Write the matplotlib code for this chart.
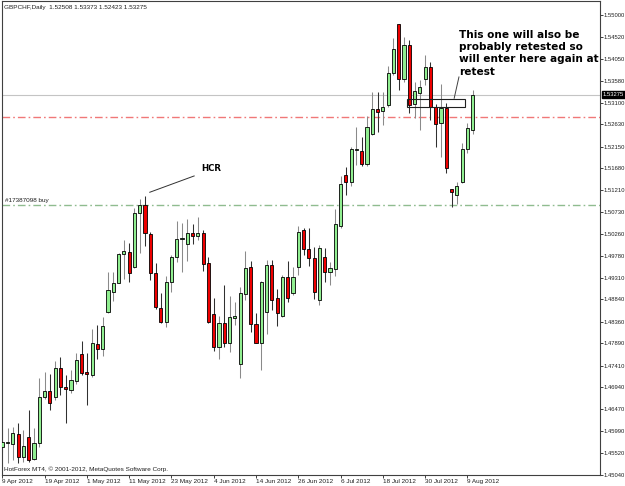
import numpy as np
import matplotlib.pyplot as plt
from matplotlib.patches import Rectangle
import matplotlib.transforms as mtransforms

W, H = 625, 486

title = "GBPCHF,Daily  1.52508 1.53373 1.52423 1.53275"
footer = "HotForex MT4, \u00a9 2001-2012, MetaQuotes Software Corp."

# daily bars, 9 Apr 2012 .. 10 Aug 2012
opens = [1.45654, 1.45738, 1.45712, 1.45922, 1.45424, 1.45870, 1.45381, 1.45728, 1.46723, 1.46860,
         1.46736, 1.47351, 1.46940, 1.46881, 1.47076, 1.47654, 1.47265, 1.47206, 1.47877, 1.47763,
         1.48564, 1.49010, 1.49205, 1.49826, 1.49863, 1.49538, 1.50707, 1.50887, 1.50252, 1.49408,
         1.48650, 1.48360, 1.49213, 1.49767, 1.50157, 1.50036, 1.50274, 1.50216, 1.50287, 1.49625,
         1.48527, 1.47806, 1.48339, 1.47893, 1.48447, 1.47444, 1.48960, 1.49538, 1.48310, 1.47893,
         1.48577, 1.49581, 1.48867, 1.48484, 1.49321, 1.48975, 1.49538, 1.50345, 1.49928, 1.49733,
         1.48830, 1.49767, 1.49430, 1.49495, 1.50439, 1.51536, 1.51391, 1.52077, 1.52062, 1.51774,
         1.52424, 1.52959, 1.52915, 1.53052, 1.53738, 1.54799, 1.53615, 1.54351, 1.53067, 1.53305,
         1.53615, 1.53881, 1.53015, 1.52656, 1.52980, 1.51233, 1.51103, 1.51391, 1.52093, 1.52508]
highs = [1.46016, 1.46059, 1.46087, 1.46161, 1.46016, 1.46448, 1.46052, 1.47148, 1.47265, 1.47221,
         1.47509, 1.47589, 1.47206, 1.47314, 1.47689, 1.47949, 1.47676, 1.48196, 1.48278, 1.48468,
         1.49443, 1.49443, 1.49841, 1.50129, 1.50071, 1.50815, 1.51010, 1.51082, 1.50309, 1.49625,
         1.48975, 1.49350, 1.49804, 1.50540, 1.50504, 1.50577, 1.50469, 1.50633, 1.50345, 1.49767,
         1.48867, 1.48484, 1.49148, 1.48917, 1.48793, 1.49118, 1.49897, 1.49681, 1.48542, 1.49248,
         1.49696, 1.49696, 1.49062, 1.49371, 1.49674, 1.49538, 1.50432, 1.50395, 1.50382, 1.49984,
         1.50021, 1.49962, 1.49659, 1.50794, 1.51515, 1.51703, 1.52149, 1.52569, 1.52352, 1.52814,
         1.53340, 1.53340, 1.53340, 1.53896, 1.54496, 1.54805, 1.54530, 1.54459, 1.53556, 1.53593,
         1.54134, 1.53989, 1.53073, 1.53506, 1.53102, 1.51233, 1.51391, 1.52223, 1.52656, 1.53373]
lows = [1.45546, 1.45301, 1.45366, 1.45308, 1.45329, 1.45329, 1.45360, 1.45654, 1.46680, 1.46448,
        1.46665, 1.46773, 1.46167, 1.46810, 1.47011, 1.47206, 1.46557, 1.47169, 1.47546, 1.47618,
        1.48542, 1.48815, 1.49192, 1.49278, 1.49213, 1.49516, 1.49854, 1.49999, 1.49263, 1.48629,
        1.48339, 1.48252, 1.49010, 1.49659, 1.49443, 1.49674, 1.50042, 1.50129, 1.49464, 1.48339,
        1.47732, 1.47546, 1.47819, 1.47711, 1.48289, 1.47135, 1.48830, 1.48144, 1.47893, 1.47314,
        1.48094, 1.48613, 1.48274, 1.48469, 1.48793, 1.48932, 1.49371, 1.49804, 1.49566, 1.48852,
        1.48722, 1.49226, 1.49155, 1.49350, 1.50382, 1.51103, 1.51298, 1.51753, 1.51731, 1.51731,
        1.52402, 1.52474, 1.52619, 1.53015, 1.53701, 1.53376, 1.53556, 1.52872, 1.52764, 1.52510,
        1.53485, 1.52727, 1.52149, 1.51932, 1.51573, 1.50843, 1.50902, 1.51357, 1.52006, 1.52423]
closes = [1.45762, 1.45749, 1.45944, 1.45437, 1.45669, 1.45366, 1.45728, 1.46723, 1.46860, 1.46594,
          1.47351, 1.46953, 1.46897, 1.47098, 1.47531, 1.47256, 1.47228, 1.47893, 1.47763, 1.48274,
          1.49046, 1.49205, 1.49826, 1.49897, 1.49421, 1.50720, 1.50887, 1.50274, 1.49421, 1.48672,
          1.48360, 1.49213, 1.49754, 1.50157, 1.50179, 1.50274, 1.50222, 1.50287, 1.49603, 1.48360,
          1.47806, 1.48339, 1.47893, 1.48455, 1.48484, 1.48975, 1.49516, 1.48310, 1.47906, 1.49220,
          1.49581, 1.48830, 1.48542, 1.49321, 1.48867, 1.49334, 1.50309, 1.49928, 1.49733, 1.49010,
          1.49949, 1.49443, 1.49516, 1.50475, 1.51341, 1.51391, 1.52093, 1.52093, 1.51768, 1.52582,
          1.52959, 1.52907, 1.52998, 1.53738, 1.54258, 1.53615, 1.54351, 1.53052, 1.53355, 1.53448,
          1.53881, 1.53015, 1.52634, 1.52980, 1.51681, 1.51162, 1.51305, 1.52093, 1.52547, 1.53275]

date_pos = [0, 8, 16, 24, 32, 40, 48, 56, 64, 72, 80, 88]
date_labels = ["9 Apr 2012", "19 Apr 2012", "1 May 2012", "11 May 2012", "23 May 2012",
               "4 Jun 2012", "14 Jun 2012", "26 Jun 2012", "6 Jul 2012", "18 Jul 2012",
               "30 Jul 2012", "9 Aug 2012"]
price_ticks = [1.55000, 1.54520, 1.54050, 1.53580, 1.53100, 1.52630, 1.52150, 1.51680,
               1.51210, 1.50730, 1.50260, 1.49780, 1.49310, 1.48840, 1.48360, 1.47890,
               1.47410, 1.46940, 1.46470, 1.45990, 1.45520, 1.45040]

buy_level = 1.5089
red_level = 1.5279
buy_label = "#17387098 buy"
note = "This one will also be\nprobably retested so\nwill enter here again at\nretest"

small = dict(family="Liberation Sans", fontsize=4.6, color="#202020")
axis_font = dict(family="Liberation Sans", fontsize=4.2, color="#202020")

fig = plt.figure(figsize=(W / 100, H / 100), dpi=100)
fig.patch.set_facecolor("white")
ax = fig.add_axes([2 / W, 11 / H, 598 / W, 474 / H])
ax.set_xlim(-0.06, -0.06 + 598 / 5.285)
ax.set_ylim(1.4504, 1.55303)

o = np.array(opens)
h = np.array(highs)
l = np.array(lows)
c = np.array(closes)
x = np.arange(len(o))
up = c >= o

# wicks then bodies
ax.vlines(x[up], l[up], h[up], color="#8a8a8a", lw=0.75, zorder=2)
ax.vlines(x[~up], l[~up], h[~up], color="#303030", lw=0.75, zorder=2)
body = np.maximum(np.abs(c - o), 0.00012)
ax.bar(x, body, bottom=np.minimum(o, c), width=0.6,
       color=np.where(up, "#90ee90", "#ee0000"), edgecolor="black",
       linewidth=0.6, zorder=3)

# horizontal levels
ax.axhline(c[-1], color="#c4c4c4", lw=0.8, zorder=1)
ax.axhline(red_level, color="#f07878", lw=1.0, ls=(0, (5.5, 2.2, 1.2, 2.2)), zorder=1)
ax.axhline(buy_level, color="#8fbc8f", lw=1.0, ls=(0, (5.5, 2.2, 1.2, 2.2)), zorder=1)
ax.text(0.5, buy_level + 0.0003, buy_label, va="bottom", ha="left", **small)

# HCR annotation
ax.plot([27.9, 36.3], [1.51162, 1.51515], color="#303030", lw=0.7)
ax.text(37.6, 1.51666, "HCR", fontsize=6.2, fontweight="bold",
        family="DejaVu Sans", va="center", ha="left")

# retest box + note
ax.add_patch(Rectangle((76.5, 1.53015), 11.05, 0.0016, fill=False,
                       edgecolor="#202020", lw=0.8, zorder=4))
ax.plot([86.4, 85.5], [1.53658, 1.53197], color="#404040", lw=0.7, zorder=4)
ax.text(86.4, 1.54675, note, fontsize=7.6, fontweight="bold",
        family="DejaVu Sans", va="top", ha="left", linespacing=1.28)

# axes styling
for s in ax.spines.values():
    s.set_color("#404040")
    s.set_linewidth(0.8)
ax.yaxis.tick_right()
ax.set_yticks(price_ticks)
ax.set_yticklabels([f"{p:.5f}" for p in price_ticks], **axis_font)
ax.tick_params(axis="y", length=2.2, width=0.6, pad=0.6, colors="#202020")
ax.set_xticks(date_pos)
ax.set_xticklabels(date_labels, ha="left", **small)
ax.tick_params(axis="x", length=2.2, width=0.6, pad=0.8, colors="#202020")

# current price tag
tr = mtransforms.blended_transform_factory(ax.transAxes, ax.transData)
ax.text(1.0045, c[-1], f"{c[-1]:.5f}", transform=tr, va="center", ha="left",
        family="Liberation Sans", fontsize=4.2, color="white",
        bbox=dict(facecolor="black", edgecolor="black", pad=0.5), clip_on=False)

fig.text(4 / W, 1 - 7 / H, title, va="center", ha="left", **small)
fig.text(4 / W, 1 - 469 / H, footer, va="center", ha="left", **small)

fig.savefig("out.png", dpi=100)
